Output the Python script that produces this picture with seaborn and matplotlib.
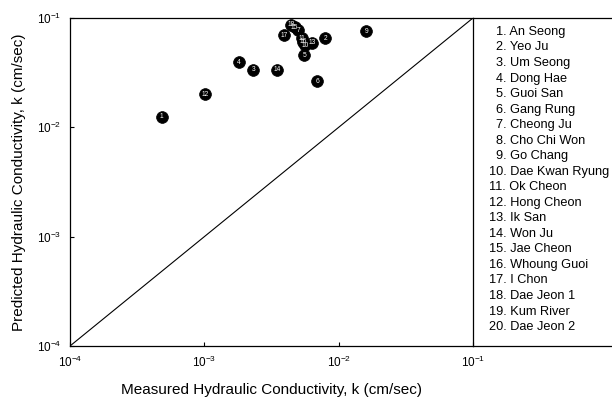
import matplotlib
matplotlib.use("Agg")
import matplotlib.pyplot as plt
import seaborn as sns
import pandas as pd
import numpy as np

# ---- data ----
station_names = ["An Seong", "Yeo Ju", "Um Seong", "Dong Hae", "Guoi San", "Gang Rung",
                 "Cheong Ju", "Cho Chi Won", "Go Chang", "Dae Kwan Ryung", "Ok Cheon",
                 "Hong Cheon", "Ik San", "Won Ju", "Jae Cheon", "Whoung Guoi", "I Chon",
                 "Dae Jeon 1", "Kum River", "Dae Jeon 2"]
point_labels = ["1", "12", "4", "3", "14", "6", "17", "18", "7", "11", "10", "13", "5", "2",
                "9", "15", "16"]
measured_k = [4.82e-4, 1.01e-3, 1.81e-3, 2.32e-3, 3.50e-3, 6.93e-3, 3.92e-3, 4.40e-3,
              5.01e-3, 5.31e-3, 5.62e-3, 6.37e-3, 5.56e-3, 7.93e-3, 1.60e-2, 4.70e-3, 5.43e-3]
predicted_k = [0.0125, 0.0201, 0.0395, 0.0335, 0.0335, 0.0264, 0.0697, 0.0871,
               0.0773, 0.0649, 0.0564, 0.0591, 0.0457, 0.0649, 0.0757, 0.0820, 0.0604]
tick_values = [1e-4, 1e-3, 1e-2, 1e-1]
tick_labels = ["10$^{-4}$", "10$^{-3}$", "10$^{-2}$", "10$^{-1}$"]

df = pd.DataFrame({"measured": measured_k, "predicted": predicted_k, "label": point_labels})

sns.set_theme(style="white")
plt.rcParams["font.family"] = ["Liberation Sans", "DejaVu Sans"]
plt.rcParams["mathtext.fontset"] = "custom"
plt.rcParams["mathtext.rm"] = "Liberation Sans"
plt.rcParams["mathtext.it"] = "Liberation Sans"
plt.rcParams["mathtext.default"] = "regular"

fig = plt.figure(figsize=(6.12, 4.01), dpi=100)
ax = fig.add_axes([0.1144, 0.1372, 0.6585, 0.8180])
lax = fig.add_axes([0.7729, 0.1372, 0.2271, 0.8180])

# 1:1 line
ax.plot([tick_values[0], tick_values[-1]], [tick_values[0], tick_values[-1]],
        color="black", lw=0.8, zorder=1)

sns.scatterplot(data=df, x="measured", y="predicted", ax=ax, color="black", s=72,
                edgecolor="black", linewidth=0.5, zorder=3, legend=False)
for _, r in df.iterrows():
    ax.text(r["measured"], r["predicted"], r["label"], color="white", fontsize=4.8,
            ha="center", va="center", zorder=4)

ax.set_xscale("log")
ax.set_yscale("log")
ax.set_xlim(tick_values[0], tick_values[-1])
ax.set_ylim(tick_values[0], tick_values[-1])
ax.set_xticks(tick_values)
ax.set_xticklabels(tick_labels)
ax.set_yticks(tick_values)
ax.set_yticklabels(tick_labels)
ax.minorticks_off()
ax.tick_params(axis="both", which="major", direction="in", length=3, width=0.8,
               labelsize=8.5, color="black", labelcolor="black", pad=6,
               bottom=True, left=True)
for sp in ax.spines.values():
    sp.set_color("black")
    sp.set_linewidth(0.9)
ax.set_xlabel("Measured Hydraulic Conductivity, k (cm/sec)", fontsize=11, labelpad=10,
              color="black")
ax.set_ylabel("Predicted Hydraulic Conductivity, k (cm/sec)", fontsize=11, labelpad=8,
              color="black")
ax.grid(False)

# legend panel
lax.set_xlim(0, 1)
lax.set_ylim(0, 1)
lax.set_xticks([])
lax.set_yticks([])
lax.spines["left"].set_visible(False)
lax.spines["right"].set_visible(False)
for s in ["top", "bottom"]:
    lax.spines[s].set_color("black")
    lax.spines[s].set_linewidth(0.9)
lax.patch.set_alpha(0)
y0 = 1 - (32 - 18) / 328.0
dy = 15.53 / 328.0
for i, name in enumerate(station_names):
    num = f"{i + 1}." if i + 1 >= 10 else f"  {i + 1}."
    lax.text(0.115, y0 - i * dy, f"{num} {name}", fontsize=9.2, ha="left",
             va="center", color="black")

fig.savefig("out.png", dpi=100)
